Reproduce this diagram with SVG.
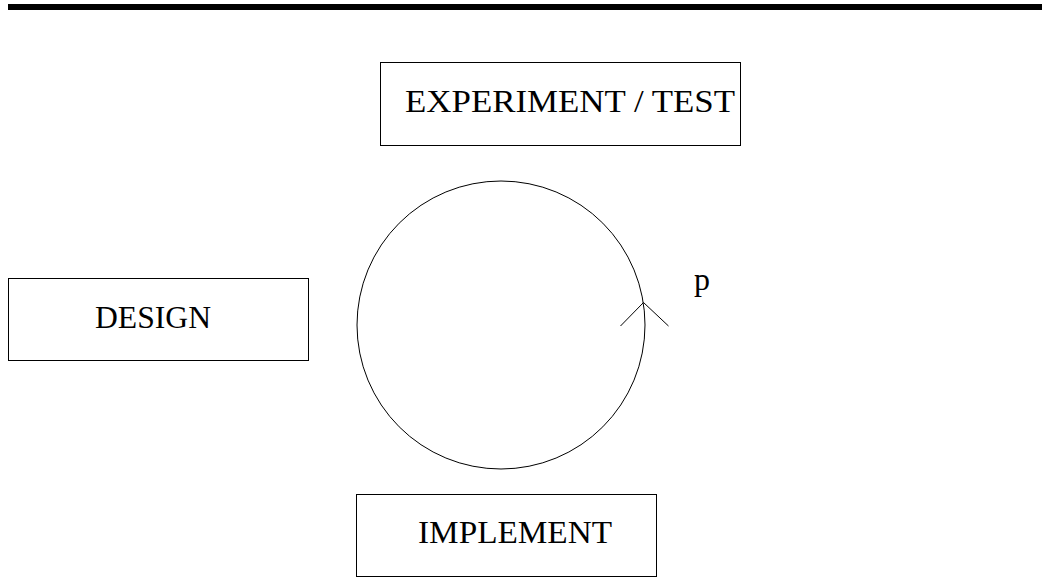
<svg xmlns="http://www.w3.org/2000/svg" width="1042" height="579" viewBox="0 0 1042 579">
<style>
.box{fill:none;stroke:#000;stroke-width:1}
.lbl{font-family:"Liberation Serif","DejaVu Serif",serif;font-size:32px;fill:#000}
.ln{fill:none;stroke:#000;stroke-width:1}
</style>
<rect x="8" y="4" width="1034" height="6" fill="#000"/>
<g id="experiment">
<rect class="box" x="380.5" y="62.5" width="360" height="83"/>
<text class="lbl" x="405" y="112" textLength="330" lengthAdjust="spacingAndGlyphs">EXPERIMENT / TEST</text>
</g>
<g id="design">
<rect class="box" x="8.5" y="278.5" width="300" height="82"/>
<text class="lbl" x="95" y="328" textLength="116" lengthAdjust="spacingAndGlyphs">DESIGN</text>
</g>
<g id="implement">
<rect class="box" x="356.5" y="494.5" width="300" height="82"/>
<text class="lbl" x="418" y="543" textLength="194" lengthAdjust="spacingAndGlyphs">IMPLEMENT</text>
</g>
<g id="connectors">
<circle class="ln" cx="501" cy="325" r="144"/>
<polyline class="ln" points="620.5,326 643.5,302.5 668.5,326"/>
<text class="lbl" x="694" y="290" font-size="30">p</text>
</g>
</svg>
